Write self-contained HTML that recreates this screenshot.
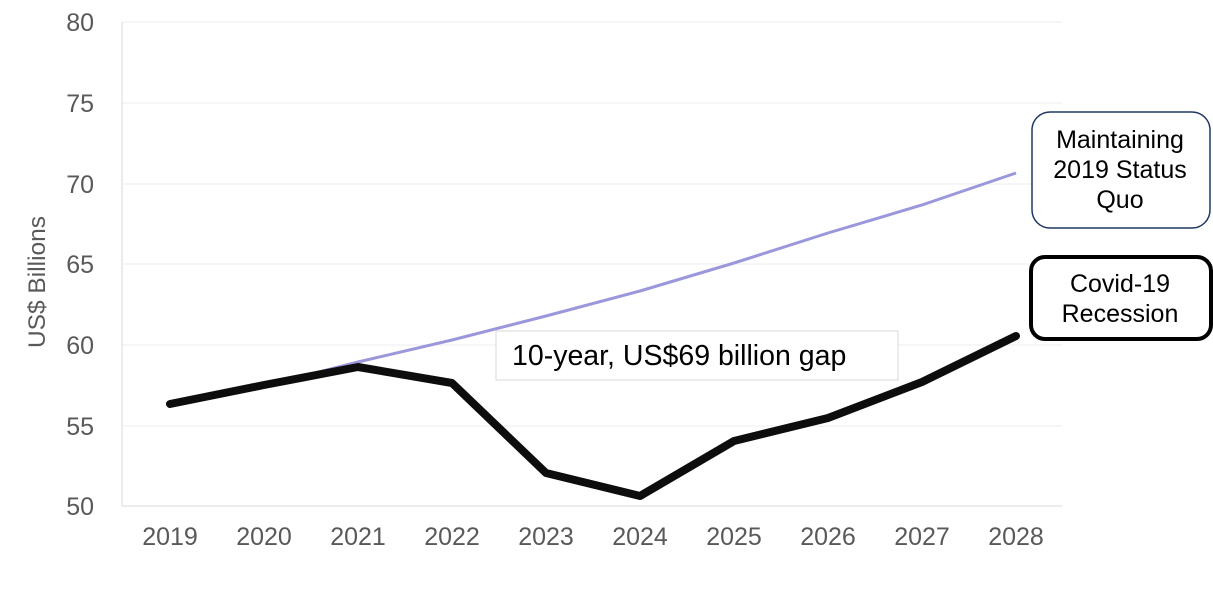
<!DOCTYPE html>
<html><head><style>body{margin:0;background:#fff}svg{display:block}</style></head><body>
<svg width="1213" height="605" xmlns="http://www.w3.org/2000/svg" font-family="Liberation Sans, sans-serif">
<g stroke="#eeeeee" stroke-width="1">
<line x1="122" y1="22" x2="1062" y2="22"/><line x1="122" y1="103" x2="1062" y2="103"/>
<line x1="122" y1="184" x2="1062" y2="184"/><line x1="122" y1="264" x2="1062" y2="264"/>
<line x1="122" y1="345" x2="1062" y2="345"/><line x1="122" y1="426" x2="1062" y2="426"/>
</g>
<line x1="122" y1="22" x2="122" y2="506" stroke="#d9d9d9"/>
<line x1="122" y1="506" x2="1062" y2="506" stroke="#d9d9d9"/>
<g font-size="25" fill="#595959" text-anchor="end">
<text x="94" y="31">80</text><text x="94" y="112">75</text><text x="94" y="193">70</text>
<text x="94" y="273">65</text><text x="94" y="354">60</text><text x="94" y="435">55</text><text x="94" y="515">50</text>
</g>
<g font-size="25" fill="#595959" text-anchor="middle">
<text x="170" y="545">2019</text><text x="264" y="545">2020</text><text x="358" y="545">2021</text>
<text x="452" y="545">2022</text><text x="546" y="545">2023</text><text x="640" y="545">2024</text>
<text x="734" y="545">2025</text><text x="828" y="545">2026</text><text x="922" y="545">2027</text><text x="1016" y="545">2028</text>
</g>
<text transform="translate(45,282) rotate(-90)" font-size="24.5" fill="#595959" text-anchor="middle">US$ Billions</text>
<polyline fill="none" stroke="#9b97dc" stroke-width="3" points="170,404 264,386 358,362 452,340 546,316 640,291 734,263 828,233 922,205 1016,173"/>
<polyline fill="none" stroke="#0d0d0d" stroke-width="8" stroke-linejoin="round" stroke-linecap="round" points="170,404 264,385 358,367 452,383 546,473 640,496 734,441 828,418 922,382 1016,336"/>
<rect x="496" y="331" width="402" height="49" fill="#fff" stroke="#d9d9d9"/>
<text x="512" y="365" font-size="28.5" fill="#000">10-year, US$69 billion gap</text>
<rect x="1032" y="112" width="178" height="116" rx="18" fill="#fff" stroke="#1f3864" stroke-width="1.5"/>
<g font-size="25" text-anchor="middle" fill="#000">
<text x="1120" y="148">Maintaining</text><text x="1120" y="178">2019 Status</text><text x="1120" y="208">Quo</text>
</g>
<rect x="1031" y="257" width="180" height="82" rx="14" fill="#fff" stroke="#000" stroke-width="4"/>
<g font-size="25" text-anchor="middle" fill="#000">
<text x="1120" y="292">Covid-19</text><text x="1120" y="322">Recession</text>
</g>
</svg>
</body></html>
